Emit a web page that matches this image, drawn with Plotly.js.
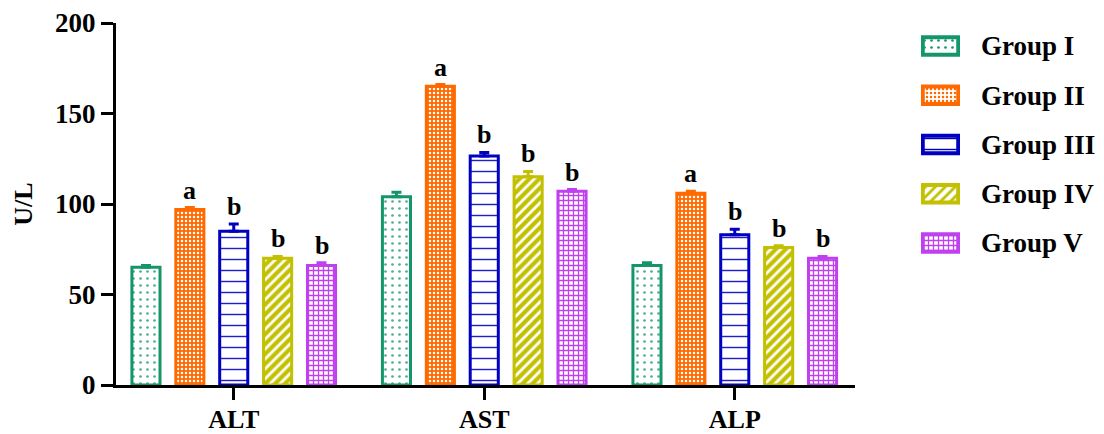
<!DOCTYPE html>
<html>
<head>
<meta charset="utf-8">
<script src="https://cdn.plot.ly/plotly-3.0.1.min.js"></script>
<style>html,body{margin:0;padding:0;background:#fff;}#chart{width:1104px;height:434px;}</style>
</head>
<body>
<div id="chart"></div>
<script>
// ---- data ----
const categories = ['ALT', 'AST', 'ALP'];
const groups = ['Group I', 'Group II', 'Group III', 'Group IV', 'Group V'];
const groupI   = [65, 104, 66];
const groupII  = [97, 165, 106];
const groupIII = [85, 126.5, 83];
const groupIV  = [70, 115, 76];
const groupV   = [66, 107, 70];
const errI   = [1, 2.5, 1.5];
const errII  = [1, 1, 1];
const errIII = [4, 2, 3];
const errIV  = [1, 3, 1];
const errV   = [1.5, 1, 1];
const lettersI   = ['', '', ''];
const lettersII  = ['a', 'a', 'a'];
const lettersIII = ['b', 'b', 'b'];
const lettersIV  = ['b', 'b', 'b'];
const lettersV   = ['b', 'b', 'b'];
const yTicks = [0, 50, 100, 150, 200];

// ---- styles ----
const values = [groupI, groupII, groupIII, groupIV, groupV];
const errs = [errI, errII, errIII, errIV, errV];
const letters = [lettersI, lettersII, lettersIII, lettersIV, lettersV];
const colors = ['#14966a', '#ff6a00', '#0000c0', '#c2c000', '#c040f0'];
const patterns = [
  {shape: '.', bgcolor: '#ffffff', fgcolor: '#4bb08e', size: 7, solidity: 0.12},
  {shape: '.', bgcolor: '#ff6a00', fgcolor: '#ffffff', size: 4, solidity: 0.3},
  {shape: '-', bgcolor: '#ffffff', fgcolor: '#2020c8', size: 11, solidity: 0.13},
  {shape: '/', bgcolor: '#c2c000', fgcolor: '#ffffff', size: 7, solidity: 0.4},
  {shape: '+', bgcolor: '#ffffff', fgcolor: '#c040f0', size: 5, solidity: 0.45}
];
const font = 'Liberation Serif, Times New Roman, serif';
const bargap = 0.124;
const slot = (1 - bargap) / groups.length;

const traces = groups.map((g, i) => ({
  type: 'bar',
  name: g,
  x: categories,
  y: values[i],
  marker: {color: colors[i], line: {color: colors[i], width: 3}, pattern: patterns[i]},
  error_y: {type: 'data', symmetric: false, array: errs[i], arrayminus: errs[i].map(() => 0),
            color: colors[i], thickness: 3, width: 5},
  hoverinfo: 'skip',
  showlegend: false
}));

// legend swatches drawn as a small horizontal-bar subplot
traces.push({
  type: 'bar', orientation: 'h',
  x: groups.map(() => 1), y: groups,
  xaxis: 'x2', yaxis: 'y2', width: 0.36,
  marker: {
    color: colors,
    line: {color: colors, width: 4},
    pattern: {
      shape: patterns.map(p => p.shape), bgcolor: patterns.map(p => p.bgcolor),
      fgcolor: patterns.map(p => p.fgcolor), size: patterns.map(p => p.size),
      solidity: patterns.map(p => p.solidity)
    }
  },
  hoverinfo: 'skip', showlegend: false
});

const annotations = [];
groups.forEach((g, i) => {
  categories.forEach((c, j) => {
    if (!letters[i][j]) return;
    annotations.push({
      x: j + (i - 2) * slot, y: values[i][j] + errs[i][j], xref: 'x', yref: 'y',
      text: '<b>' + letters[i][j] + '</b>', showarrow: false, yanchor: 'bottom', yshift: 1,
      font: {family: font, size: 26, color: '#000'}
    });
  });
});

const W = 988;
const layout = {
  width: 1104, height: 434,
  margin: {l: 116, r: 0, t: 23, b: 49},
  paper_bgcolor: '#fff', plot_bgcolor: '#fff',
  barmode: 'group', bargap: bargap, bargroupgap: 0.36,
  font: {family: font, size: 26, color: '#000'},
  showlegend: false,
  xaxis: {
    domain: [0, 739 / W],
    type: 'category', range: [-0.47, 2.48], showgrid: false, zeroline: false,
    showline: true, linecolor: '#000', linewidth: 3,
    ticks: 'outside', ticklen: 12, tickwidth: 3, tickcolor: '#000',
    ticklabelstandoff: -3,
    tickfont: {family: font, size: 26, color: '#000', weight: 'bold'}
  },
  yaxis: {
    range: [0, 200], tickvals: yTicks, showgrid: false, zeroline: false,
    showline: true, linecolor: '#000', linewidth: 3,
    ticks: 'outside', ticklen: 12, tickwidth: 3, tickcolor: '#000',
    tickfont: {family: font, size: 27, color: '#000', weight: 'bold'},
    title: {text: '<b>U/L</b>', font: {family: font, size: 26, color: '#000'}, standoff: 15}
  },
  xaxis2: {
    domain: [805 / W, 844 / W], anchor: 'y2', range: [-0.05, 1.05],
    visible: false, fixedrange: true
  },
  yaxis2: {
    domain: [0.3, 1], anchor: 'x2', side: 'right', type: 'category',
    categoryarray: groups, range: [4.678, -0.467],
    showgrid: false, zeroline: false, showline: false, ticks: '',
    ticklabelstandoff: 20,
    tickfont: {family: font, size: 27, color: '#000', weight: 'bold'}
  },
  annotations: annotations
};

Plotly.newPlot('chart', traces, layout, {displayModeBar: false, staticPlot: true});
</script>
</body>
</html>
